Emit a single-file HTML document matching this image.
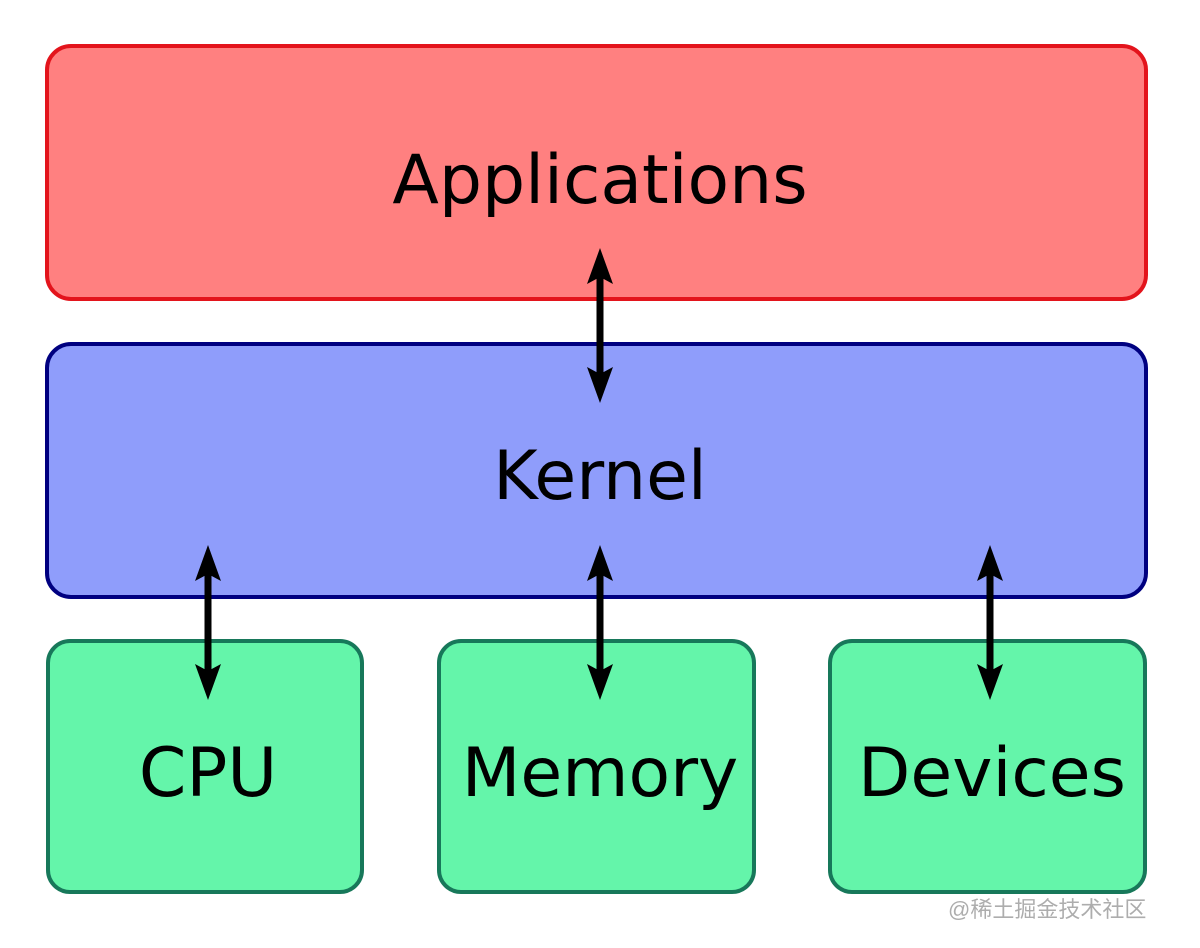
<!DOCTYPE html>
<html><head><meta charset="utf-8"><style>
html,body{margin:0;padding:0;background:#fff;}
svg{display:block;}
</style></head><body>
<svg width="1200" height="948" viewBox="0 0 1200 948" xmlns="http://www.w3.org/2000/svg">
<rect x="47" y="46" width="1099" height="253" rx="24" fill="#ff8080" stroke="#e3141c" stroke-width="4"/>
<rect x="47" y="344" width="1099" height="253" rx="24" fill="#8f9dfb" stroke="#000080" stroke-width="4"/>
<rect x="48" y="641" width="314" height="251" rx="22" fill="#64f5aa" stroke="#17785a" stroke-width="4"/>
<rect x="439" y="641" width="315" height="251" rx="22" fill="#64f5aa" stroke="#17785a" stroke-width="4"/>
<rect x="830" y="641" width="315" height="251" rx="22" fill="#64f5aa" stroke="#17785a" stroke-width="4"/>
<g font-family="DejaVu Sans, sans-serif" font-size="68" fill="#000" text-anchor="middle">
<text x="600" y="203">Applications</text>
<text x="600" y="499">Kernel</text>
<text x="208" y="796">CPU</text>
<text x="600" y="796">Memory</text>
<text x="992" y="796">Devices</text>
</g>
<g id="a1" fill="#000">
<rect x="596.5" y="270" width="7" height="110"/>
<polygon points="600,248 613,284 600,277 587,284"/>
<polygon points="600,403 613,367 600,374 587,367"/>
</g>
<use href="#a1" transform="translate(-392,297)"/>
<use href="#a1" transform="translate(0,297)"/>
<use href="#a1" transform="translate(390,297)"/>
<text x="948" y="917" font-family="Liberation Sans, Noto Sans CJK SC, sans-serif" font-size="22" fill="#999" opacity="0.8">@稀土掘金技术社区</text>
</svg>
</body></html>
